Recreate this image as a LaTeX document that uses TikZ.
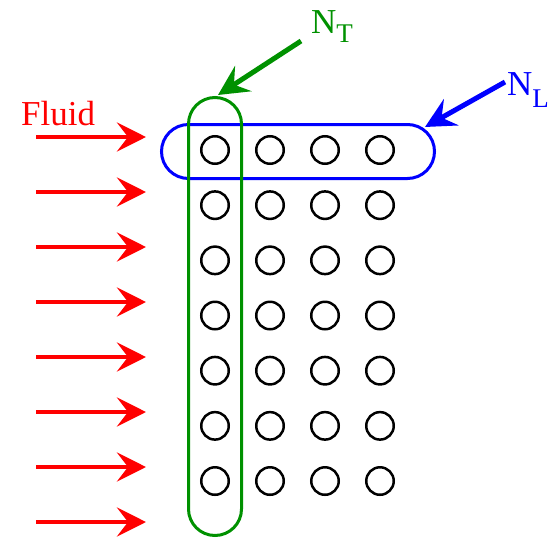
\documentclass[tikz,border=0pt]{standalone}
\usepackage{fontspec}
\setmainfont{Liberation Serif}
\usetikzlibrary{arrows.meta}
\definecolor{fgreen}{RGB}{0,145,0}
\definecolor{fblue}{RGB}{0,0,255}
\definecolor{fred}{RGB}{255,0,0}
\begin{document}
\begin{tikzpicture}[x=1pt,y=-1pt,
  tube/.style={circle,draw=black,line width=2.5pt,minimum size=27.5pt,inner sep=0pt},
  group/.style={rectangle,line width=3pt,inner sep=0pt},
  flow/.style={draw=fred,line width=4.5pt,-{Stealth[length=29pt,width=29pt,inset=11pt]}},
  pointer/.style={line width=5pt,-{Stealth[length=30pt,width=30pt,inset=11pt]}},
  lbl/.style={inner sep=0pt,font=\fontsize{35}{38}\selectfont}]
\useasboundingbox (0,0) rectangle (560,560);
\foreach \i in {0,...,3} {
  \foreach \j in {0,...,6} {
    \node[tube] (t\i\j) at ({215+55*\i},{150+55.17*\j}) {};
  }
}
\node[group,draw=fblue,minimum width=273pt,minimum height=54pt,rounded corners=27pt] (rowL) at (298,151.5) {};
\node[group,draw=fgreen,minimum width=53pt,minimum height=438pt,rounded corners=26.5pt] (colT) at (215,316.5) {};
\foreach \k in {0,...,7} {
  \coordinate (fs\k) at (36,{137+55*\k});
  \coordinate (fe\k) at (146,{137+55*\k});
  \draw[flow] (fs\k) -- (fe\k);
}
\node[lbl,text=fred,anchor=base west] (fluid) at (21,125) {Fluid};
\node[lbl,text=fgreen,anchor=base west] (NT) at (311,33) {N\raisebox{-9pt}{\fontsize{27}{27}\selectfont T}};
\node[lbl,text=fblue,anchor=base west] (NL) at (507,95) {N\raisebox{-12pt}{\fontsize{27}{27}\selectfont L}};
\coordinate (ntS) at (301,41);
\coordinate (ntE) at (218,95);
\coordinate (nlS) at (505,82);
\coordinate (nlE) at (425,127);
\draw[pointer,draw=fgreen,fill=fgreen] (ntS) -- (ntE);
\draw[pointer,draw=fblue,fill=fblue] (nlS) -- (nlE);
\end{tikzpicture}
\end{document}
